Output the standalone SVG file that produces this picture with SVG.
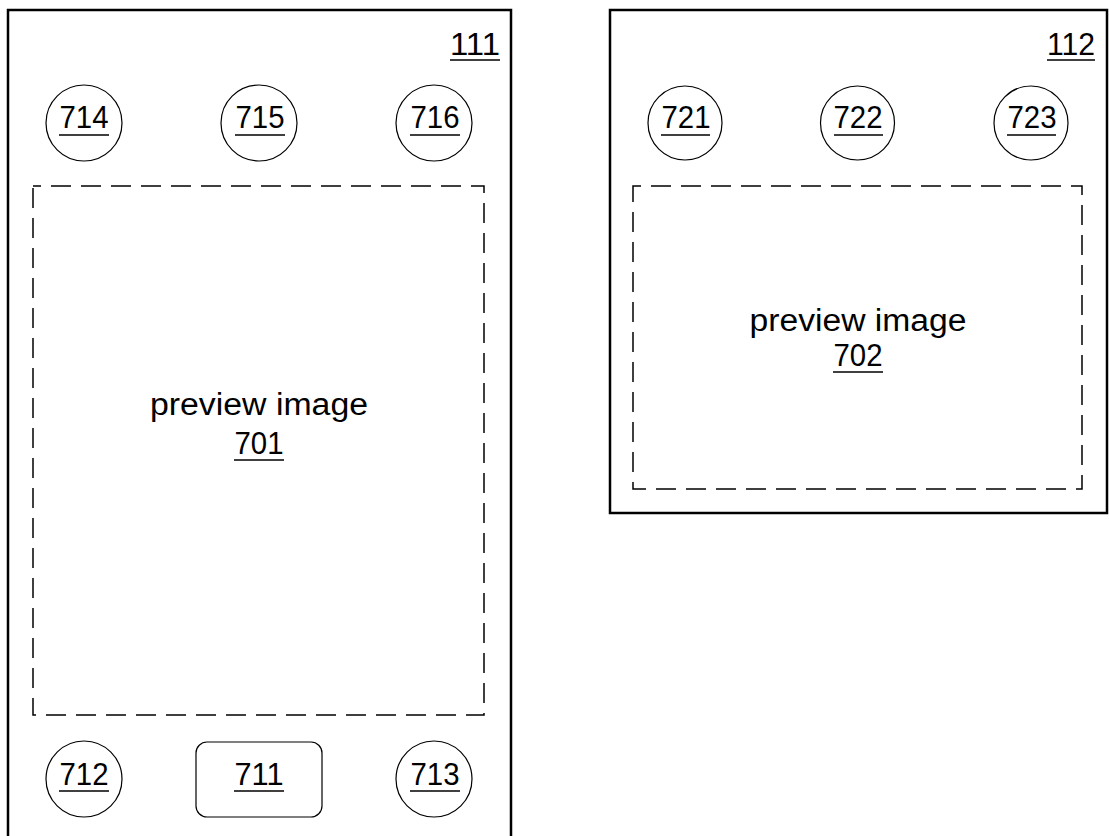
<svg xmlns="http://www.w3.org/2000/svg" width="1109" height="836" viewBox="0 0 1109 836">
<style>
.frame{fill:none;stroke:#000;stroke-width:2.5}
.dash{fill:none;stroke:#000;stroke-width:1.5;stroke-dasharray:20 10;stroke-dashoffset:12}
.btn{fill:#fff;stroke:#000;stroke-width:1.2}
.num{font-family:"Liberation Sans",Arial,sans-serif;font-size:31px;fill:#000;text-anchor:middle}
.lbl{font-family:"Liberation Sans",Arial,sans-serif;font-size:31px;fill:#000;text-anchor:middle}
.ul{stroke:#000;stroke-width:1.6}
</style>
<rect width="1109" height="836" fill="#fff"/>
<g id="screen111">
<path class="frame" d="M8,840 V10 H511 V840"/>
<text class="num" x="475" y="55" textLength="50" lengthAdjust="spacingAndGlyphs">111</text>
<line class="ul" x1="450" y1="60" x2="500" y2="60"/>
</g>
<g id="preview701">
<rect class="dash" x="33" y="186" width="451" height="529"/>
<text class="lbl" x="259" y="415" textLength="218" lengthAdjust="spacingAndGlyphs">preview image</text>
<text class="num" x="259" y="454" textLength="49" lengthAdjust="spacingAndGlyphs">701</text>
<line class="ul" x1="234" y1="460" x2="284" y2="460"/>
</g>
<g id="btn714"><circle class="btn" cx="84" cy="123" r="38"/><text class="num" x="84" y="128" textLength="49" lengthAdjust="spacingAndGlyphs">714</text><line class="ul" x1="59" y1="135" x2="109" y2="135"/></g>
<g id="btn715"><circle class="btn" cx="259" cy="123" r="38"/><text class="num" x="260" y="128" textLength="49" lengthAdjust="spacingAndGlyphs">715</text><line class="ul" x1="235" y1="135" x2="285" y2="135"/></g>
<g id="btn716"><circle class="btn" cx="434" cy="123" r="38"/><text class="num" x="435" y="128" textLength="49" lengthAdjust="spacingAndGlyphs">716</text><line class="ul" x1="410" y1="135" x2="460" y2="135"/></g>
<g id="btn712"><circle class="btn" cx="84" cy="779" r="38"/><text class="num" x="84" y="785" textLength="49" lengthAdjust="spacingAndGlyphs">712</text><line class="ul" x1="59" y1="791" x2="109" y2="791"/></g>
<g id="btn711"><rect class="btn" x="196" y="742" width="126" height="75" rx="11"/><text class="num" x="259" y="785" textLength="49" lengthAdjust="spacingAndGlyphs">711</text><line class="ul" x1="234" y1="791" x2="284" y2="791"/></g>
<g id="btn713"><circle class="btn" cx="434" cy="779" r="38"/><text class="num" x="435" y="785" textLength="49" lengthAdjust="spacingAndGlyphs">713</text><line class="ul" x1="410" y1="791" x2="460" y2="791"/></g>
<g id="screen112">
<rect class="frame" x="610" y="10" width="497" height="503"/>
<text class="num" x="1071" y="55" textLength="48" lengthAdjust="spacingAndGlyphs">112</text>
<line class="ul" x1="1047" y1="60" x2="1095" y2="60"/>
</g>
<g id="preview702">
<rect class="dash" x="633" y="186" width="449" height="303"/>
<text class="lbl" x="858" y="331" textLength="217" lengthAdjust="spacingAndGlyphs">preview image</text>
<text class="num" x="858" y="366" textLength="49" lengthAdjust="spacingAndGlyphs">702</text>
<line class="ul" x1="833" y1="372" x2="883" y2="372"/>
</g>
<g id="btn721"><circle class="btn" cx="685" cy="123" r="37"/><text class="num" x="686" y="128" textLength="49" lengthAdjust="spacingAndGlyphs">721</text><line class="ul" x1="661" y1="135" x2="710" y2="135"/></g>
<g id="btn722"><circle class="btn" cx="857.5" cy="123" r="37"/><text class="num" x="858" y="128" textLength="49" lengthAdjust="spacingAndGlyphs">722</text><line class="ul" x1="834" y1="135" x2="883" y2="135"/></g>
<g id="btn723"><circle class="btn" cx="1031" cy="123" r="37"/><text class="num" x="1032" y="128" textLength="49" lengthAdjust="spacingAndGlyphs">723</text><line class="ul" x1="1007" y1="135" x2="1056" y2="135"/></g>
<g id="connectors"></g>
</svg>
